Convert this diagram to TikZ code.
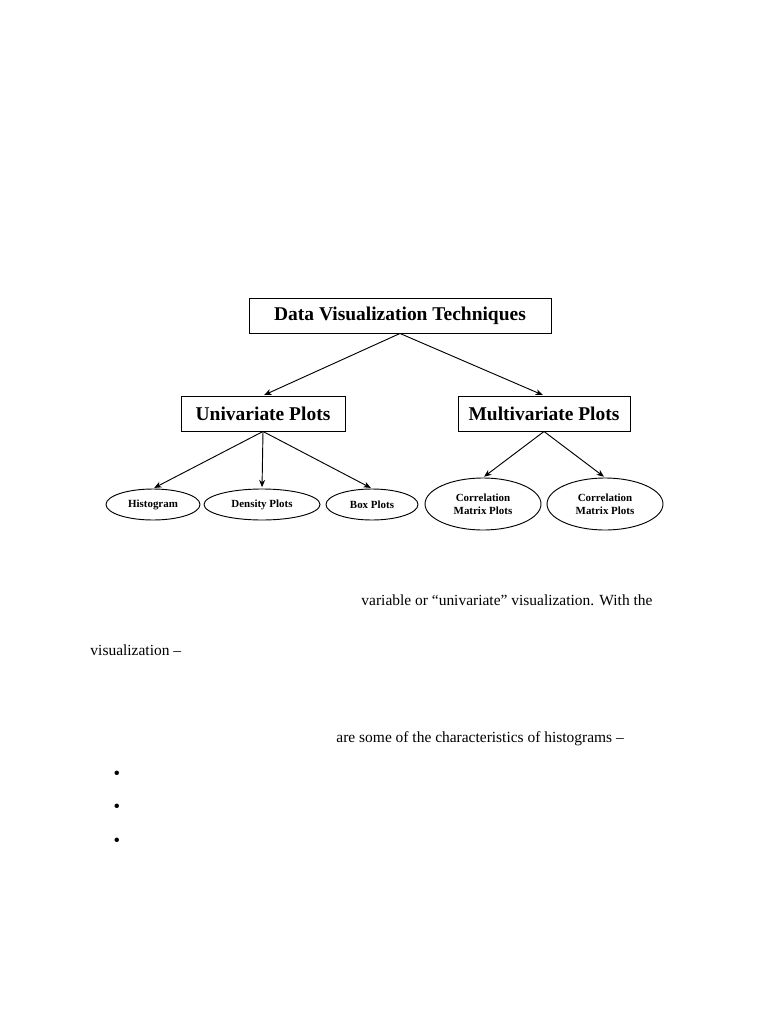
\documentclass[tikz,border=0pt]{standalone}
\usepackage{fontspec}
\setmainfont{Liberation Serif}
\usetikzlibrary{shapes.geometric,arrows.meta}
\begin{document}
\begin{tikzpicture}[x=0.75pt,y=-0.75pt,line width=0.7pt,
  box/.style={shape=rectangle,draw=black,inner sep=0pt,minimum height=26.25pt,font=\fontsize{14.6}{16}\selectfont\bfseries},
  leaf/.style={shape=ellipse,draw=black,inner sep=0pt,minimum height=23.25pt,font=\fontsize{8.2}{9}\selectfont\bfseries},
  leafM/.style={leaf,minimum width=87pt,minimum height=39pt,align=center,font=\fontsize{8.2}{10}\selectfont\bfseries},
  line/.style={draw=black,shorten >=1pt,-{Stealth[length=5.5pt,width=4.5pt]}},
  body/.style={anchor=base west,inner sep=0pt,font=\fontsize{11.6}{14}\selectfont},
  dot/.style={anchor=center,inner sep=0pt,font=\fontsize{14}{14}\selectfont}]
\useasboundingbox[fill=white] (0,0) rectangle (768,1024);

\node[box,minimum width=226.5pt] (T) at (400,315.5) {Data Visualization Techniques};

\node[box,minimum width=123pt] (U) at (263,413.5) {Univariate Plots};
\draw[line] (T.south) -- (U.north);
\node[box,minimum width=129pt] (M) at (544,413.5) {Multivariate Plots};
\draw[line] (T.south) -- (M.north);

\node[leaf,minimum width=70.5pt] (H) at (153,504.5) {Histogram};
\draw[line] (U.south) -- (H.north);
\node[leaf,minimum width=87pt] (D) at (262,504.5) {Density Plots};
\draw[line] (U.south) -- (D.north);
\node[leaf,minimum width=69pt] (B) at (372,504.5) {Box Plots};
\draw[line] (U.south) -- (B.north);

\node[leafM] (C) at (483,504) {Correlation\\Matrix Plots};
\draw[line] (M.south) -- (C.north);
\node[leafM] (C2) at (605,504) {Correlation\\Matrix Plots};
\draw[line] (M.south) -- (C2.north);

\node[body] (L1) at (361,605) {variable or “univariate” visualization. With the};
\node[body] (L2) at (90,655) {visualization –};
\node[body] (L3) at (336,742) {are some of the characteristics of histograms –};

\node[dot] (P1) at (117,775) {•};
\node[dot] (P2) at (117,808) {•};
\node[dot] (P3) at (117,842) {•};
\end{tikzpicture}
\end{document}
